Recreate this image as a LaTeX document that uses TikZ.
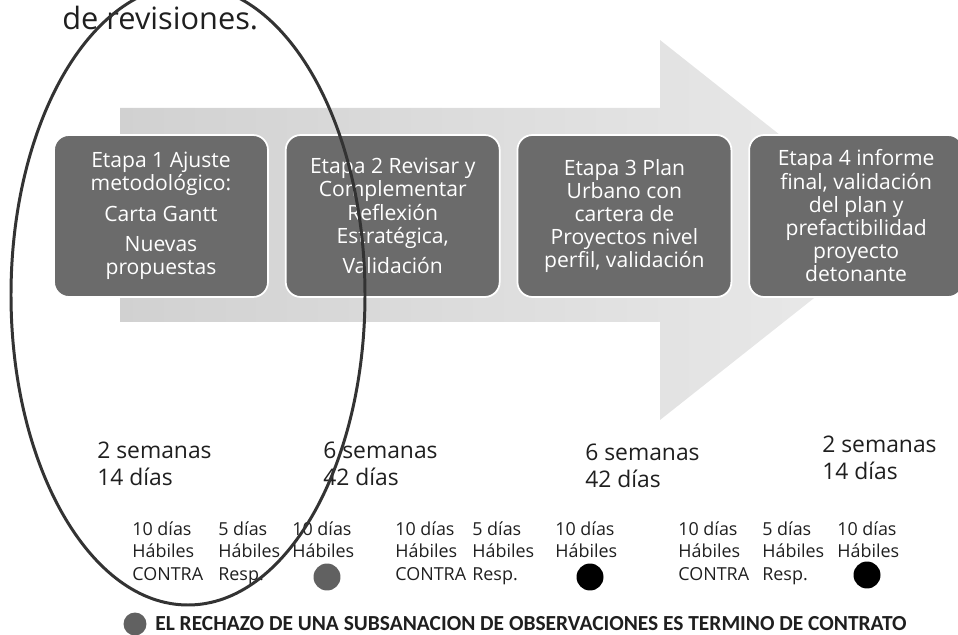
\documentclass[tikz,border=0pt]{standalone}
\usepackage{fontspec}
\setmainfont{Open Sans}
\newfontfamily\notefont{Carlito}
\usepackage{tikz}
\usepackage{color}
\definecolor{stage-gray}{rgb}{0.42,0.42,0.42}
\definecolor{arrow-gray}{rgb}{0.82,0.82,0.82}
\definecolor{pen-gray}{rgb}{0.2,0.2,0.2}
\definecolor{ink}{rgb}{0.12,0.12,0.12}
\usetikzlibrary{positioning}

\begin{document}
\begin{tikzpicture}[x=0.02cm,y=-0.02cm]
    \tikzstyle{etapa}=[draw=white,line width=1pt,rounded corners=0.3cm,fill=stage-gray,text=white,minimum width=4.28cm,minimum height=3.24cm,align=center,font=\fontsize{12}{13.2}\selectfont]
    \tikzstyle{plazo}=[anchor=west,align=left,inner sep=0pt,text=ink,font=\fontsize{13}{15}\selectfont]
    \tikzstyle{dias}=[anchor=north west,align=left,inner sep=0pt,text=ink,font=\fontsize{10.2}{12.8}\selectfont]
    \tikzstyle{punto}=[circle,inner sep=0pt,minimum size=0.54cm]
    \useasboundingbox (0,0) rectangle (958,635);

    % flecha de fondo
    \shade[left color=arrow-gray,right color=arrow-gray!45] (120,108) -- (660,108) -- (660,40) -- (900,230) -- (660,420) -- (660,322) -- (120,322) -- cycle;

    \node[anchor=base west,inner sep=0pt,text=ink,font=\fontsize{17.5}{20}\selectfont] (titulo) at (62,30) {de revisiones.};

    \node[etapa] (e1) at (161,216) {Etapa 1 Ajuste\\metodológico:\\[4pt]Carta Gantt\\[4pt]Nuevas\\propuestas};
    \node[etapa, right=0.32cm of e1] (e2) {Etapa 2 Revisar y\\Complementar\\Reflexión\\Estratégica,\\[4pt]Validación};
    \node[etapa, right=0.32cm of e2] (e3) {Etapa 3 Plan\\Urbano con\\cartera de\\Proyectos nivel\\perfil, validación};
    \node[etapa, right=0.32cm of e3] (e4) {Etapa 4 informe\\final, validación\\del plan y\\prefactibilidad\\proyecto\\detonante};

    % plazos
    \node[plazo] (p1) at (97,464) {2 semanas\\14 días};
    \node[plazo] (p2) at (323,464) {6 semanas\\42 días};
    \node[plazo] (p3) at (585,466) {6 semanas\\42 días};
    \node[plazo] (p4) at (822,458) {2 semanas\\14 días};

    % dias habiles
    \node[dias] (c1) at (132,521) {10 días\\Hábiles\\CONTRA};
    \node[dias] (r1) at (218,521) {5 días\\Hábiles\\Resp.};
    \node[dias] (h1) at (292,521) {10 días\\Hábiles};
    \node[dias] (c2) at (395,521) {10 días\\Hábiles\\CONTRA};
    \node[dias] (r2) at (472,521) {5 días\\Hábiles\\Resp.};
    \node[dias] (h2) at (555,521) {10 días\\Hábiles};
    \node[dias] (c3) at (678,521) {10 días\\Hábiles\\CONTRA};
    \node[dias] (r3) at (762,521) {5 días\\Hábiles\\Resp.};
    \node[dias] (h3) at (837,521) {10 días\\Hábiles};

    \node[punto,fill=black!62] (k1) at (327,577) {};
    \node[punto,fill=black] (k2) at (590,577) {};
    \node[punto,fill=black] (k3) at (867,575) {};

    \node[punto,fill=black!62,minimum size=0.46cm] (k0) at (135,624) {};
    \node[anchor=west,inner sep=0pt,text=ink,font=\notefont\bfseries\fontsize{12.2}{14}\selectfont] (nota) at (155,624) {EL RECHAZO DE UNA SUBSANACION DE OBSERVACIONES ES TERMINO DE CONTRATO};

    % marca a mano
    \coordinate (marca) at (188,295);
    \draw[pen-gray,line width=1.7pt] (marca) ellipse [x radius=177, y radius=310];
\end{tikzpicture}
\end{document}
